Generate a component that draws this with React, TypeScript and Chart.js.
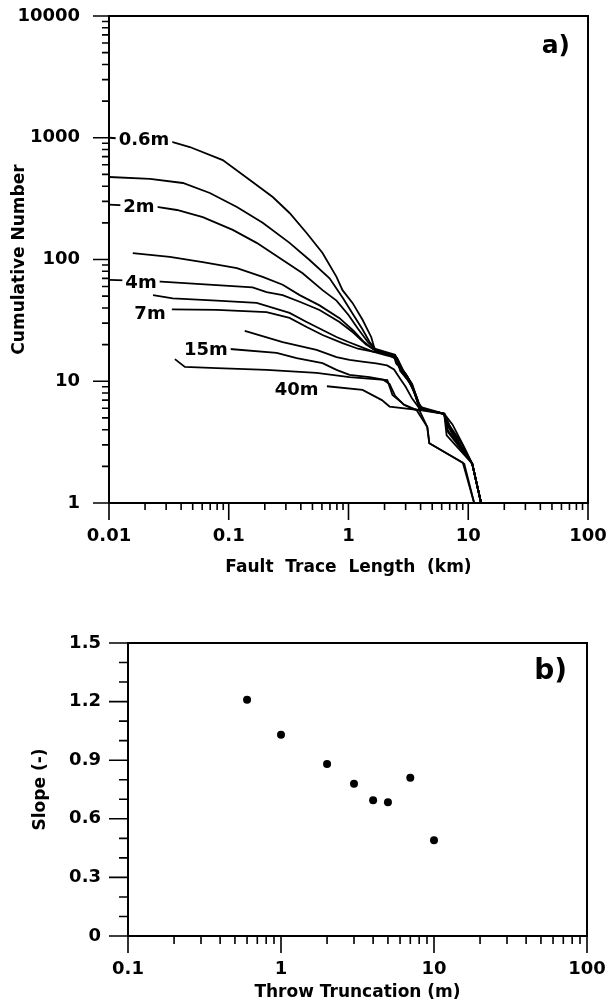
import React, { useEffect, useRef } from "react";
import { Chart, registerables } from "chart.js";

Chart.register(...registerables);

const FONT_FAMILY = "'DejaVu Sans', 'Liberation Sans', sans-serif";

// ---------------- Panel a) : cumulative number vs fault trace length ----------------
const A_X_DECADES = [0.01, 0.1, 1, 10, 100];
const A_Y_DECADES = [1, 10, 100, 1000, 10000];
const MINOR_MULTIPLIERS = [2, 3, 4, 5, 6, 7, 8, 9];

// [fault trace length (km), cumulative number]
const CURVE_0_6M: [number, number][] = [
  [0.01, 1000], [0.0335, 923], [0.0473, 839], [0.0891, 656], [0.15, 450], [0.233, 326],
  [0.322, 241], [0.447, 165], [0.607, 113], [0.794, 72], [0.891, 56], [1.08, 44], [1.31, 32],
  [1.55, 23], [1.65, 18.5], [2.0, 17.5], [2.45, 16.5], [2.6, 13.5], [3.0, 11.5], [3.4, 9.2],
  [3.7, 7.5], [3.9, 6.0], [6.3, 5.4], [7.4, 4.4], [9.2, 2.9], [10.8, 2.1], [12.8, 1],
];
const CURVE_1M: [number, number][] = [
  [0.01, 476], [0.022, 459], [0.0414, 425], [0.0695, 352], [0.117, 270], [0.192, 200],
  [0.322, 137], [0.473, 99], [0.695, 70], [0.9, 48], [1.1, 35], [1.3, 27], [1.5, 21], [1.7, 18],
  [2.1, 17], [2.5, 15.8], [2.65, 13], [3.0, 11], [3.5, 8.5], [3.9, 6.0], [6.3, 5.4], [7.0, 4.3],
  [8.8, 3.1], [10.8, 2.1], [12.8, 1],
];
const CURVE_2M: [number, number][] = [
  [0.01, 282], [0.0251, 270], [0.0369, 255], [0.0607, 223], [0.108, 175], [0.171, 137],
  [0.282, 99], [0.414, 77], [0.607, 56], [0.794, 46], [1.0, 35], [1.2, 27], [1.45, 21], [1.7, 18],
  [2.1, 16.8], [2.4, 16], [2.5, 14], [2.9, 12], [3.3, 9.8], [3.8, 6.6], [4.0, 5.9], [6.3, 5.4],
  [6.6, 4.5], [7.6, 3.5], [10.8, 2.1], [12.8, 1],
];
const CURVE_3M: [number, number][] = [
  [0.0158, 113], [0.0322, 105], [0.0607, 95], [0.117, 85], [0.192, 72], [0.282, 62], [0.391, 51],
  [0.573, 42], [0.841, 33], [1.1, 26], [1.35, 21], [1.65, 18], [2.0, 16.8], [2.35, 16.2],
  [2.55, 15.2], [2.7, 12.2], [3.2, 10], [3.6, 7.8], [3.95, 6.0], [6.3, 5.4], [7.2, 4.0],
  [10.8, 2.1], [12.8, 1],
];
const CURVE_4M: [number, number][] = [
  [0.01, 68], [0.0251, 66], [0.0736, 62], [0.158, 59], [0.207, 54], [0.282, 51], [0.391, 45],
  [0.573, 38.5], [0.841, 30.7], [1.1, 25], [1.4, 20], [1.75, 17.5], [2.15, 16.6], [2.6, 14.8],
  [2.8, 11.8], [3.3, 9.5], [3.75, 7.2], [4.05, 5.9], [6.3, 5.4], [6.8, 3.8], [10.8, 2.1], [12.8, 1],
];
const CURVE_5M: [number, number][] = [
  [0.0233, 51], [0.0341, 48], [0.0794, 46], [0.171, 44], [0.322, 36.4], [0.447, 30.7],
  [0.794, 23.1], [1.0, 21], [1.3, 19], [1.6, 17.5], [2.0, 16.5], [2.55, 15.5], [2.9, 12],
  [3.4, 9.5], [3.85, 6.6], [4.2, 5.9], [6.3, 5.4], [6.6, 3.6], [10.8, 2.1], [12.8, 1],
];
const CURVE_7M: [number, number][] = [
  [0.0335, 39], [0.0794, 38.5], [0.207, 37], [0.322, 33.1], [0.447, 27.9], [0.607, 24],
  [0.891, 20.6], [1.2, 18.5], [1.6, 17.5], [2.0, 17], [2.5, 16], [2.7, 13], [3.1, 11], [3.5, 8.5],
  [3.9, 6.2], [6.3, 5.4], [6.9, 4.2], [8.5, 3.0], [10.8, 2.1], [12.8, 1],
];
const CURVE_10M: [number, number][] = [
  [0.136, 25.9], [0.282, 21], [0.541, 18.1], [0.794, 15.8], [1.02, 15], [1.3, 14.5], [1.7, 14],
  [2.1, 13.5], [2.4, 12.5], [2.7, 10.5], [3.0, 9], [3.4, 7.2], [3.9, 6.0], [6.3, 5.4], [6.7, 4.0],
  [10.8, 2.1], [12.8, 1],
];
const CURVE_15M: [number, number][] = [
  [0.102, 18.4], [0.251, 17.1], [0.369, 15.5], [0.607, 14.1], [0.794, 12.4], [1.02, 11.3],
  [1.5, 10.8], [1.95, 10.3], [2.2, 9.5], [2.45, 7.6], [2.9, 6.4], [3.5, 5.9], [6.3, 5.4],
  [6.5, 4.6], [10.8, 2.1], [12.8, 1],
];
const CURVE_20M: [number, number][] = [
  [0.0355, 15.2], [0.043, 13.1], [0.0794, 12.8], [0.207, 12.4], [0.541, 11.7], [1.02, 10.8],
  [2.11, 10.2], [2.33, 7.7], [2.93, 6.4], [3.7, 5.8], [4.55, 4.2], [4.73, 3.1], [9.26, 2.1],
  [11.2, 1],
];
const CURVE_40M: [number, number][] = [
  [0.66, 9.1], [1.31, 8.5], [1.9, 7.0], [2.2, 6.2], [3.9, 5.8], [4.55, 4.2], [4.73, 3.1],
  [9.0, 2.15], [11.2, 1],
];

const CURVES = [
  CURVE_0_6M, CURVE_1M, CURVE_2M, CURVE_3M, CURVE_4M, CURVE_5M,
  CURVE_7M, CURVE_10M, CURVE_15M, CURVE_20M, CURVE_40M,
];

const CURVE_LABEL_TEXT = ["0.6m", "2m", "4m", "7m", "15m", "40m"];
const CURVE_LABEL_X = [0.0196, 0.0178, 0.0185, 0.022, 0.0643, 0.369];
const CURVE_LABEL_N = [958, 270, 64, 35.7, 18.1, 8.5];

// ---------------- Panel b) : slope vs throw truncation ----------------
const B_X_DECADES = [0.1, 1, 10, 100];
const B_Y_TICKS = [0, 0.1, 0.2, 0.3, 0.4, 0.5, 0.6, 0.7, 0.8, 0.9, 1.0, 1.1, 1.2, 1.3, 1.4, 1.5];
const B_Y_LABELLED = [0, 0.3, 0.6, 0.9, 1.2, 1.5];
const THROW_TRUNCATION = [0.6, 1, 2, 3, 4, 5, 7, 10];
const SLOPE = [1.21, 1.03, 0.88, 0.78, 0.695, 0.685, 0.81, 0.49];

function logTicks(decades: number[]): number[] {
  const out: number[] = [];
  decades.forEach((d, i) => {
    out.push(d);
    if (i < decades.length - 1) {
      MINOR_MULTIPLIERS.forEach((m) => out.push(Number((d * m).toPrecision(6))));
    }
  });
  return out;
}

const A_X_TICKS = logTicks(A_X_DECADES);
const A_Y_TICKS = logTicks(A_Y_DECADES);
const B_X_TICKS = logTicks(B_X_DECADES);

const near = (list: number[], v: number) =>
  list.some((d) => Math.abs(d - v) < 1e-9 * Math.max(1, Math.abs(d)));

function fixSize(prop: "width" | "height", size: number) {
  return (s: any) => {
    s[prop] = size;
    s.paddingTop = 0;
    s.paddingBottom = 0;
    s.paddingLeft = 0;
    s.paddingRight = 0;
  };
}

function framePlugin(
  isMajorX: (v: number) => boolean,
  isMajorY: (v: number) => boolean,
  xMajorLen: number,
  xMinorLen: number,
  yMajorLen: number,
  yMinorLen: number
) {
  return {
    id: "frameTicks",
    afterDraw(chart: any) {
      const { ctx, chartArea: a } = chart;
      const xs = chart.scales.x;
      const ys = chart.scales.y;
      ctx.save();
      ctx.strokeStyle = "#000";
      ctx.lineWidth = 2;
      ctx.strokeRect(a.left, a.top, a.right - a.left, a.bottom - a.top);
      ctx.lineWidth = 1.6;
      ctx.beginPath();
      xs.ticks.forEach((t: any) => {
        const p = xs.getPixelForValue(t.value);
        const len = isMajorX(t.value) ? xMajorLen : xMinorLen;
        ctx.moveTo(p, a.bottom);
        ctx.lineTo(p, a.bottom + len);
      });
      ys.ticks.forEach((t: any) => {
        const p = ys.getPixelForValue(t.value);
        const len = isMajorY(t.value) ? yMajorLen : yMinorLen;
        ctx.moveTo(a.left, p);
        ctx.lineTo(a.left - len, p);
      });
      ctx.stroke();
      ctx.restore();
    },
  };
}

function textPlugin(
  panelText: string,
  panelSize: number,
  panelDx: number,
  panelDy: number,
  labels: { text: string; x: number; y: number }[]
) {
  return {
    id: "texts",
    afterDatasetsDraw(chart: any) {
      const { ctx, chartArea: a } = chart;
      const xs = chart.scales.x;
      const ys = chart.scales.y;
      ctx.save();
      ctx.font = `bold 18px ${FONT_FAMILY}`;
      ctx.textBaseline = "middle";
      ctx.textAlign = "center";
      labels.forEach((l) => {
        const px = xs.getPixelForValue(l.x);
        const py = ys.getPixelForValue(l.y);
        const w = ctx.measureText(l.text).width;
        ctx.fillStyle = "#fff";
        ctx.fillRect(px - w / 2 - 3, py - 10, w + 6, 20);
        ctx.fillStyle = "#000";
        ctx.fillText(l.text, px, py);
      });
      ctx.font = `bold ${panelSize}px ${FONT_FAMILY}`;
      ctx.textAlign = "right";
      ctx.fillStyle = "#000";
      ctx.fillText(panelText, a.right - panelDx, a.top + panelDy);
      ctx.restore();
    },
  };
}

const tickFont = { family: FONT_FAMILY, size: 18, weight: "bold" as const };
const titleFont = { family: FONT_FAMILY, size: 17, weight: "bold" as const };

function buildPanelA(canvas: HTMLCanvasElement) {
  const labels = CURVE_LABEL_TEXT.map((t, i) => ({ text: t, x: CURVE_LABEL_X[i], y: CURVE_LABEL_N[i] }));
  return new Chart(canvas, {
    type: "scatter",
    data: {
      datasets: CURVES.map((c) => ({
        data: c.map(([x, y]) => ({ x, y })),
        showLine: true,
        borderColor: "#000",
        backgroundColor: "#000",
        borderWidth: 1.8,
        pointRadius: 0,
        tension: 0,
      })),
    },
    options: {
      responsive: false,
      animation: false,
      events: [],
      layout: { padding: { left: 0, top: 16, right: 22, bottom: 0 } },
      plugins: { legend: { display: false }, tooltip: { enabled: false } },
      scales: {
        x: {
          type: "logarithmic",
          min: 0.01,
          max: 100,
          afterBuildTicks: (s: any) => {
            s.ticks = A_X_TICKS.map((v) => ({ value: v }));
          },
          afterFit: fixSize("height", 75),
          grid: { display: false, drawTicks: false },
          border: { display: false },
          ticks: {
            autoSkip: false,
            maxRotation: 0,
            padding: 23,
            color: "#000",
            font: tickFont,
            callback: (v: any) => (near(A_X_DECADES, Number(v)) ? String(v) : ""),
          },
          title: {
            display: true,
            text: "Fault  Trace  Length  (km)",
            color: "#000",
            font: titleFont,
            padding: { top: 0, bottom: 0 },
          },
        },
        y: {
          type: "logarithmic",
          min: 1,
          max: 10000,
          afterBuildTicks: (s: any) => {
            s.ticks = A_Y_TICKS.map((v) => ({ value: v }));
          },
          afterFit: fixSize("width", 109),
          grid: { display: false, drawTicks: false },
          border: { display: false },
          ticks: {
            autoSkip: false,
            padding: 29,
            color: "#000",
            font: tickFont,
            callback: (v: any) => (near(A_Y_DECADES, Number(v)) ? String(v) : ""),
          },
          title: {
            display: true,
            text: "Cumulative Number",
            color: "#000",
            font: titleFont,
            padding: { top: 9, bottom: 0 },
          },
        },
      },
    },
    plugins: [
      textPlugin("a)", 25, 18, 30, labels),
      framePlugin(
        (v) => near(A_X_DECADES, v),
        (v) => near(A_Y_DECADES, v),
        17, 7, 16, 7
      ),
    ],
  } as any);
}

function buildPanelB(canvas: HTMLCanvasElement) {
  return new Chart(canvas, {
    type: "scatter",
    data: {
      datasets: [
        {
          data: THROW_TRUNCATION.map((x, i) => ({ x, y: SLOPE[i] })),
          pointRadius: 4,
          pointBackgroundColor: "#000",
          pointBorderColor: "#000",
          pointBorderWidth: 0,
          showLine: false,
        },
      ],
    },
    options: {
      responsive: false,
      animation: false,
      events: [],
      layout: { padding: { left: 0, top: 43, right: 23, bottom: 0 } },
      plugins: { legend: { display: false }, tooltip: { enabled: false } },
      scales: {
        x: {
          type: "logarithmic",
          min: 0.1,
          max: 100,
          afterBuildTicks: (s: any) => {
            s.ticks = B_X_TICKS.map((v) => ({ value: v }));
          },
          afterFit: fixSize("height", 70),
          grid: { display: false, drawTicks: false },
          border: { display: false },
          ticks: {
            autoSkip: false,
            maxRotation: 0,
            padding: 23,
            color: "#000",
            font: tickFont,
            callback: (v: any) => (near(B_X_DECADES, Number(v)) ? String(v) : ""),
          },
          title: {
            display: true,
            text: "Throw Truncation (m)",
            color: "#000",
            font: titleFont,
            padding: { top: 0, bottom: 3 },
          },
        },
        y: {
          type: "linear",
          min: 0,
          max: 1.5,
          afterBuildTicks: (s: any) => {
            s.ticks = B_Y_TICKS.map((v) => ({ value: v }));
          },
          afterFit: fixSize("width", 128),
          grid: { display: false, drawTicks: false },
          border: { display: false },
          ticks: {
            autoSkip: false,
            padding: 27,
            color: "#000",
            font: tickFont,
            callback: (v: any) => {
              const n = Number(v);
              if (!near(B_Y_LABELLED, n)) return "";
              return n === 0 ? "0" : n.toFixed(1);
            },
          },
          title: {
            display: true,
            text: "Slope (-)",
            color: "#000",
            font: titleFont,
            padding: { top: 30, bottom: 0 },
          },
        },
      },
    },
    plugins: [
      textPlugin("b)", 28, 20, 29, []),
      framePlugin(
        (v) => near(B_X_DECADES, v),
        (v) => near(B_Y_LABELLED, v),
        17, 8, 19, 9
      ),
    ],
  } as any);
}

export default function App() {
  const refA = useRef<HTMLCanvasElement | null>(null);
  const refB = useRef<HTMLCanvasElement | null>(null);

  useEffect(() => {
    if (!refA.current || !refB.current) return;
    const a = buildPanelA(refA.current);
    const b = buildPanelB(refB.current);
    return () => {
      a.destroy();
      b.destroy();
    };
  }, []);

  return (
    <div
      style={{
        position: "absolute",
        left: 0,
        top: 0,
        width: 610,
        height: 1006,
        background: "#fff",
        overflow: "hidden",
      }}
    >
      <canvas
        ref={refA}
        width={610}
        height={578}
        style={{ position: "absolute", left: 0, top: 0, width: 610, height: 578 }}
      />
      <canvas
        ref={refB}
        width={610}
        height={406}
        style={{ position: "absolute", left: 0, top: 600, width: 610, height: 406 }}
      />
    </div>
  );
}
